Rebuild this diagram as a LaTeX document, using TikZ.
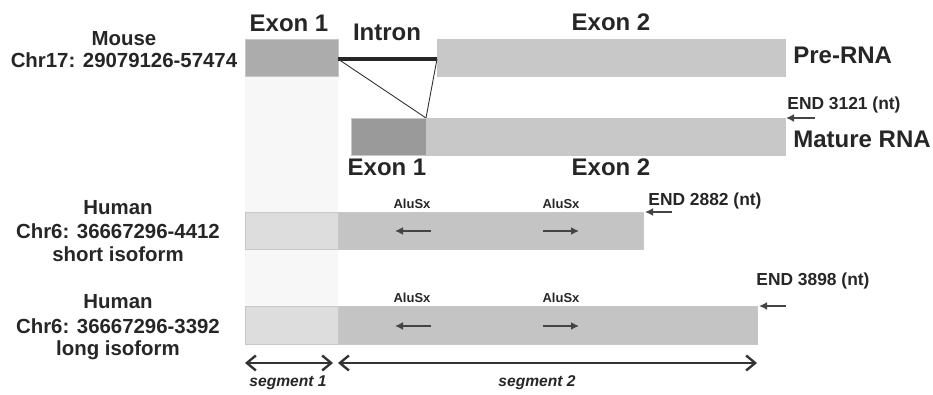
\documentclass[tikz,border=0pt]{standalone}
\usepackage{fontspec}
\setmainfont{Liberation Sans}
\usetikzlibrary{arrows.meta}
\usepackage{xcolor}
\definecolor{exondark}{HTML}{ACACAC}
\definecolor{exonmat}{HTML}{9A9A9A}
\definecolor{exonlight}{HTML}{C8C8C8}
\definecolor{segone}{HTML}{DDDDDD}
\definecolor{segtwo}{HTML}{C4C4C4}
\definecolor{colshade}{HTML}{F7F7F7}
\definecolor{arrgray}{HTML}{444444}

\begin{document}
\begin{tikzpicture}[x=0.5pt,y=-0.5pt,
  box/.style={draw=black!22,line width=0.3pt},
  big/.style={font=\bfseries\fontsize{12}{14}\selectfont,anchor=base,inner sep=0pt,text=black!85},
  species/.style={font=\bfseries\fontsize{10.2}{12}\selectfont,anchor=base,inner sep=0pt,text=black!85},
  endlbl/.style={font=\bfseries\fontsize{8.7}{10}\selectfont,anchor=base west,inner sep=0pt,text=black!85},
  alu/.style={font=\bfseries\fontsize{6.5}{8}\selectfont,anchor=base,inner sep=0pt,text=black!85},
  seglbl/.style={font=\bfseries\itshape\fontsize{7.8}{9}\selectfont,anchor=base,inner sep=0pt,text=black!85},
  aluarr/.style={arrgray,line width=1pt,-{Latex[length=4pt,width=4pt]}},
  segarr/.style={black!80,line width=1.2pt,{Straight Barb[length=4.5pt,width=7.5pt]}-{Straight Barb[length=4.5pt,width=7.5pt]}}]
\useasboundingbox (0,0) rectangle (933,395);

% shaded segment 1 column
\fill[colshade] (245,76) rectangle (338,306);

% pre-RNA
\filldraw[box,fill=exondark] (245,39) rectangle (338,76);
\filldraw[box,fill=exonlight] (437,39) rectangle (785,76);
\coordinate (ex1r) at (338,59);
\coordinate (ex2l) at (437,59);
\coordinate (junc) at (426,118);
\draw[black!85,line width=2pt] (ex1r) -- (ex2l);
\draw[black!80,line width=0.45pt] (ex1r) -- (junc);
\draw[black!80,line width=0.45pt] (ex2l) -- (junc);

% mature RNA
\filldraw[box,fill=exonmat] (351,118) rectangle (426,155);
\filldraw[box,fill=exonlight] (426,118) rectangle (785,155);

% human short isoform
\filldraw[box,fill=segone] (245,212) rectangle (338,249);
\filldraw[box,fill=segtwo] (338,212) rectangle (643,249);

% human long isoform
\filldraw[box,fill=segone] (245,306) rectangle (338,344);
\filldraw[box,fill=segtwo] (338,306) rectangle (757,344);

% labels
\node[big] (exon1top) at (289,32) {Exon 1};
\node[big] (intron) at (387,41) {Intron};
\node[big] (exon2top) at (611,31) {Exon 2};
\node[big,anchor=base west] (prerna) at (793,64) {Pre-RNA};
\node[big,anchor=base west] (mature) at (793,148) {Mature RNA};
\node[big] (exon1bot) at (387,176) {Exon 1};
\node[big] (exon2bot) at (611,176) {Exon 2};

\node[species] (mouse) at (124,46) {Mouse};
\node[species] (mousechr) at (124,68) {Chr17: 29079126-57474};
\node[species] (hsname) at (118,215) {Human};
\node[species] (hschr) at (118,239) {Chr6: 36667296-4412};
\node[species] (hsiso) at (118,262) {short isoform};
\node[species] (hlname) at (118,309) {Human};
\node[species] (hlchr) at (118,334) {Chr6: 36667296-3392};
\node[species] (hliso) at (118,356) {long isoform};

\node[endlbl] (end3121) at (787,110) {END 3121 (nt)};
\node[endlbl] (end2882) at (648,206) {END 2882 (nt)};
\node[endlbl] (end3898) at (756,286) {END 3898 (nt)};

\node[alu] (alus1) at (412,209) {AluSx};
\node[alu] (alus2) at (561,209) {AluSx};
\node[alu] (alul1) at (412,303) {AluSx};
\node[alu] (alul2) at (561,303) {AluSx};

\node[seglbl] (seg1) at (288,387) {segment 1};
\node[seglbl] (seg2) at (537,387) {segment 2};

% end markers
\draw[aluarr] (815,118) -- (786,118);
\draw[aluarr] (672,212) -- (645,212);
\draw[aluarr] (786,306) -- (759,306);

% AluSx orientation
\draw[aluarr] (431,231) -- (395,231);
\draw[aluarr] (543,231) -- (579,231);
\draw[aluarr] (431,326) -- (395,326);
\draw[aluarr] (543,326) -- (579,326);

% segments
\draw[segarr] (245,363) -- (333,363);
\draw[segarr] (338,363) -- (757,363);
\end{tikzpicture}
\end{document}
